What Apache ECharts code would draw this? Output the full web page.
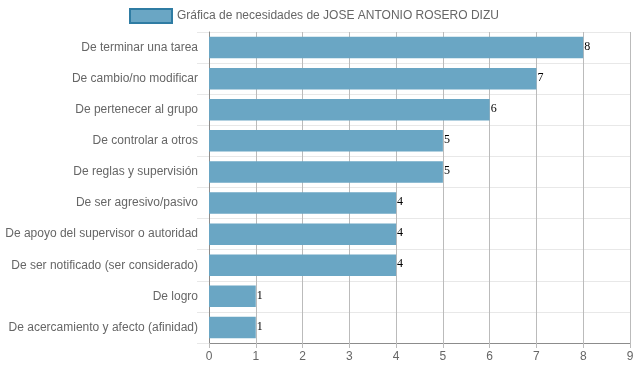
<!DOCTYPE html>
<html><head><meta charset="utf-8">
<script src="https://cdn.jsdelivr.net/npm/echarts@6/dist/echarts.min.js"></script>
<style>html,body{margin:0;padding:0;background:#fff}#c{width:637px;height:371px}</style>
</head><body><div id="c"></div>
<script>
const categories = ["De terminar una tarea","De cambio/no modificar","De pertenecer al grupo","De controlar a otros","De reglas y supervisión","De ser agresivo/pasivo","De apoyo del supervisor o autoridad","De ser notificado (ser considerado)","De logro","De acercamiento y afecto (afinidad)"];
const values = [8,7,6,5,5,4,4,4,1,1];
const seriesName = "Gráfica de necesidades de JOSE ANTONIO ROSERO DIZU";
const xTicks = [0,1,2,3,4,5,6,7,8,9];

const chart = echarts.init(document.getElementById('c'), null, {renderer:'canvas'});
chart.setOption({
  animation:false,
  legend:{top:8,left:129,padding:0,itemWidth:42,itemHeight:14,itemGap:5,icon:'rect',
    textStyle:{color:'#666',fontSize:12,fontFamily:'Liberation Sans, Arial'},
    data:[{name:seriesName,itemStyle:{color:'#6aa6c4',borderColor:'#2f7ca3',borderWidth:2}}]},
  grid:{left:209,right:7,top:32,bottom:28,containLabel:false},
  xAxis:{type:'value',min:0,max:9,interval:1,
    axisLine:{show:true,lineStyle:{color:'#8c8c8c'}},
    axisTick:{show:true,length:5,lineStyle:{color:'#bbb'}},
    splitLine:{show:true,lineStyle:{color:'#bbb'}},
    axisLabel:{color:'#666',fontSize:12,fontFamily:'Liberation Sans, Arial',margin:8,
      formatter:v=>xTicks.includes(v)?String(v):''}},
  yAxis:{type:'category',inverse:true,data:categories,
    axisLine:{show:true,lineStyle:{color:'#8c8c8c'}},
    axisTick:{show:true,length:12,lineStyle:{color:'#e8e8e8'}},
    splitLine:{show:true,lineStyle:{color:'#e8e8e8'}},
    axisLabel:{color:'#666',fontSize:12,fontFamily:'Liberation Sans, Arial',margin:11}},
  series:[{name:seriesName,type:'bar',data:values,barCategoryGap:'31%',
    itemStyle:{color:'#6aa6c4'},
    label:{show:true,position:'right',distance:1,color:'#000',fontSize:12,fontFamily:'Liberation Serif, Times New Roman',
      offset:[0,-1]}}]
});
</script></body></html>
